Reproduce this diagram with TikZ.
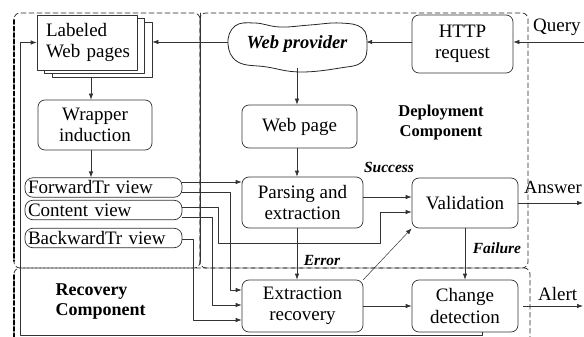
\documentclass[tikz,border=0pt]{standalone}
\usepackage{fontspec}
\setmainfont{Liberation Serif}
\usetikzlibrary{arrows.meta}

\begin{document}
\begin{tikzpicture}[x=1pt, y=-1pt, line cap=round, line join=round, >={Latex[length=6pt,width=4.5pt]},
  font=\fontsize{19}{21.5}\selectfont,
  box/.style={draw=black!80, line width=0.7pt, rounded corners=7pt, align=center, inner sep=2pt},
  sheet/.style={draw=black!80, line width=0.7pt, fill=white, minimum width=100, minimum height=55},
  view/.style={draw=black!80, line width=0.7pt, rounded corners=8pt, text width=151, inner xsep=3pt, inner ysep=0pt, minimum height=19.5, align=left},
  region/.style={draw=black!85, line width=0.7pt, dash pattern=on 5pt off 3pt, rounded corners=6pt},
  tag/.style={font=\fontsize{15.5}{17}\selectfont\bfseries\itshape},
  title/.style={font=\fontsize{16.5}{20}\selectfont\bfseries},
  io/.style={anchor=base west, inner sep=0pt},
  link/.style={->, draw=black!80, line width=0.7pt}]
  \useasboundingbox (0,0) rectangle (584,337);

  % Regions
  \draw[region] (14,13) rectangle (200,268);
  \draw[region] (200,13) rectangle (528,268);
  \draw[region] (14,337) |- (530,268) -- (530,337);
  \draw[line width=1.6pt, dash pattern=on 4pt off 2.5pt] (14,20) -- (14,261) (14,275) -- (14,337);
  \draw[black!80, line width=0.7pt] (200,13) -- (200,262);

  % Wrapper side
  \node[sheet] (pages3) at (102,49.5) {};
  \node[sheet] (pages2) at (94.5,46) {};
  \node[sheet, text width=88, inner xsep=0pt, align=left] (pages) at (87,42.5) {\hspace*{3pt}Labeled\\\hspace*{3pt}Web pages};
  \node[box, minimum width=114, minimum height=50] (wrap) at (95,125) {Wrapper\\induction};
  \node[view] (fwd) at (103.5,187.5) {ForwardTr view};
  \node[view] (cont) at (103.5,210) {Content view};
  \node[view] (bwd) at (103.5,238) {BackwardTr view};

  % Deployment side
  \node[minimum width=138, minimum height=48, font=\fontsize{18.5}{20}\selectfont\bfseries\itshape] (provider) at (297,44) {Web provider};
  \draw[black!85, line width=0.8pt] plot[smooth cycle, tension=0.7] coordinates {(235,26) (255,23) (280,27) (310,25) (340,23) (362,28) (367,45) (362,62) (340,68) (300,72) (267,67) (238,62) (228,44)};
  \node[box, minimum width=101, minimum height=58] (http) at (462.5,44) {HTTP\\request};
  \node[box, minimum width=115, minimum height=43] (page) at (299.5,126.5) {Web page};
  \node[box, minimum width=121, minimum height=51] (parse) at (302.5,202.5) {Parsing and\\extraction};
  \node[box, minimum width=106, minimum height=50] (valid) at (465,203) {Validation};
  \node[title, align=center] (deploy) at (441,123) {Deployment\\Component};

  % Recovery side
  \node[box, minimum width=121, minimum height=52] (extrec) at (302.5,306) {Extraction\\recovery};
  \node[box, minimum width=106, minimum height=52] (change) at (465,306) {Change\\detection};
  \node[title, font=\fontsize{18}{20}\selectfont\bfseries, align=left, anchor=west] (recov) at (52,302) {Recovery\\Component};

  % Labels on the links
  \node[tag] (success) at (389,167) {Success};
  \node[tag] (error) at (322,260) {Error};
  \node[tag] (failure) at (497,248) {Failure};

  % Outside inputs and outputs
  \coordinate (query) at (584,42);
  \coordinate (answer) at (583,203);
  \coordinate (alert) at (583,306);
  \node[io] (querytxt) at (533,32) {Query};
  \node[io, font=\fontsize{18.5}{20}\selectfont] (answertxt) at (524,193) {Answer};
  \node[io] (alerttxt) at (538,300) {Alert};

  % Links
  \coordinate (row) at (0,42);
  \coordinate (midcol) at (297,0);
  \coordinate (leftcol) at (91,0);
  \coordinate (ch1) at (193,0);
  \coordinate (ch2) at (212,0);
  \coordinate (ch3) at (218,0);
  \coordinate (ch4) at (230,0);
  \coordinate (ch5) at (380,0);
  \coordinate (low) at (0,243);
  \coordinate (feedback) at (20,335.5);

  \draw[link] (query) -- (query -| http.east);
  \draw[link] (http.west |- row) -- (provider.east |- row);
  \draw[link] (provider.west |- row) -- (pages3.east |- row);
  \draw[link] (pages3.south -| leftcol) -- (wrap.north -| leftcol);
  \draw[link] (wrap.south -| leftcol) -- (fwd.north -| leftcol);
  \draw[link] (provider.south -| midcol) -- (page.north -| midcol);
  \draw[link] (page.south -| midcol) -- (parse.north -| midcol);
  \draw[link] (parse.south -| midcol) -- (extrec.north -| midcol);

  % Views into parsing, validation and recovery
  \draw[link] ([yshift=5.5]fwd.east) -- ([yshift=5.5]fwd.east -| parse.west);
  \draw[link] ([yshift=-4.5]fwd.east) -| ([yshift=16]extrec.west -| ch4) -- ([yshift=16]extrec.west);
  \draw[link] ([yshift=3]cont.east) -| (ch3 |- low) -| ([yshift=-9]valid.west -| ch5) -- ([yshift=-9]valid.west);
  \draw[link] ([yshift=-7]cont.east) -| ([yshift=1]extrec.west -| ch2) -- ([yshift=1]extrec.west);
  \draw[link] ([yshift=-1]bwd.east) -| ([yshift=-14]extrec.west -| ch1) -- ([yshift=-14]extrec.west);

  \draw[link] ([yshift=5.5]parse.east) -- ([yshift=5.5]parse.east -| valid.west);
  \draw[link, line width=0.5pt] (extrec.north east) -- (valid.south west);
  \draw[link] (valid.south) -- (change.north);
  \draw[link] (extrec.east) -- (change.west);
  \draw[link] (valid.east) -- (answer);
  \draw[link] ([xshift=5]change.east) -- (alert);
  \draw[link] ([xshift=17]change.south) |- (feedback) |- (pages.west);
\end{tikzpicture}
\end{document}
